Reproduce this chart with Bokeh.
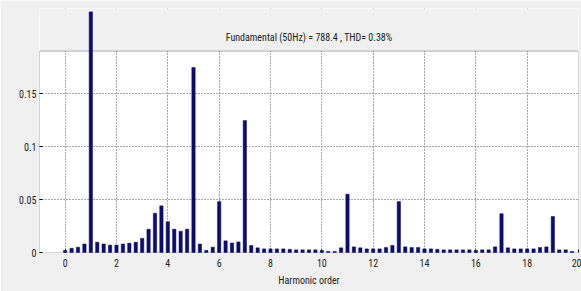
import numpy as np
from bokeh.plotting import figure
from bokeh.models import ColumnDataSource, BoxAnnotation, Label, FixedTicker, Range1d
from bokeh.embed import file_html
from bokeh.resources import INLINE

# Harmonic order (0.25 steps) and magnitude (% of fundamental)
harmonic_order = [i * 0.25 for i in range(80)]
magnitude = [
    0.002, 0.004, 0.005, 0.008,      # 0 .. 0.75
    0.227, 0.0097, 0.008, 0.007,     # 1 .. 1.75
    0.007, 0.008, 0.0088, 0.0097,    # 2 .. 2.75
    0.0134, 0.022, 0.037, 0.044,     # 3 .. 3.75
    0.029, 0.022, 0.020, 0.022,      # 4 .. 4.75
    0.1745, 0.008, 0.002, 0.005,     # 5 .. 5.75
    0.048, 0.011, 0.009, 0.010,      # 6 .. 6.75
    0.1245, 0.0066, 0.0044, 0.0034,  # 7 .. 7.75
    0.0034, 0.0034, 0.0034, 0.003,   # 8 .. 8.75
    0.0025, 0.0025, 0.0025, 0.0025,  # 9 .. 9.75
    0.002, 0.001, 0.001, 0.0044,     # 10 .. 10.75
    0.055, 0.0053, 0.0044, 0.0034,   # 11 .. 11.75
    0.0034, 0.0034, 0.0047, 0.0066,  # 12 .. 12.75
    0.048, 0.0053, 0.0047, 0.0047,   # 13 .. 13.75
    0.0034, 0.0034, 0.003, 0.0025,   # 14 .. 14.75
    0.0025, 0.0025, 0.0025, 0.0025,  # 15 .. 15.75
    0.002, 0.0025, 0.0025, 0.0053,   # 16 .. 16.75
    0.0366, 0.0044, 0.0034, 0.0034,  # 17 .. 17.75
    0.0034, 0.0034, 0.0047, 0.0053,  # 18 .. 18.75
    0.034, 0.0025, 0.0025, 0.001,    # 19 .. 19.75
]
x_ticks = [0, 2, 4, 6, 8, 10, 12, 14, 16, 18, 20]
y_ticks = [0, 0.05, 0.1, 0.15]
y_tick_labels = {0: "0", 0.05: "0.05", 0.1: "0.1", 0.15: "0.15"}
title_text = "Fundamental (50Hz) = 788.4 , THD= 0.38%"
x_label = "Harmonic order"
y_label = "Mag (% of Fundamental)"

AXES_TOP = 0.19
X_MIN, X_MAX = -1, 20
Y_MAX = 0.2302

GREY = "#f0f0f0"
BAR = "#0c0c6e"
NARROW = "'Liberation Sans Narrow', 'Arial Narrow', 'Roboto Condensed', sans-serif"

source = ColumnDataSource(dict(x=harmonic_order, top=magnitude))

p = figure(width=581, height=291, output_backend="svg", toolbar_location=None,
           x_range=Range1d(X_MIN, X_MAX), y_range=Range1d(0, Y_MAX),
           min_border_left=39, min_border_right=3, min_border_top=8,
           min_border_bottom=39)
p.border_fill_color = GREY
p.background_fill_color = "white"
p.outline_line_color = None

# grids
for g in (p.xgrid, p.ygrid):
    g.grid_line_color = "#555555"
    g.grid_line_dash = "1 2"
    g.grid_line_width = 1
p.xgrid.ticker = FixedTicker(ticks=x_ticks)
p.ygrid.ticker = FixedTicker(ticks=y_ticks[1:])

# axes
p.xaxis.ticker = FixedTicker(ticks=x_ticks)
p.yaxis.ticker = FixedTicker(ticks=y_ticks)
p.yaxis.major_label_overrides = y_tick_labels
for ax in (p.xaxis, p.yaxis):
    ax.axis_line_color = None
    ax.major_tick_in = 3
    ax.major_tick_out = 0
    ax.minor_tick_line_color = None
    ax.major_tick_line_color = "black"
    ax.major_label_text_font = NARROW
    ax.major_label_text_font_size = "10px"
    ax.major_label_text_color = "#222222"
p.xaxis.major_label_standoff = 6
p.yaxis.major_label_standoff = 3
p.xaxis.axis_label = x_label
p.xaxis.axis_label_text_font = NARROW
p.xaxis.axis_label_text_font_size = "10px"
p.xaxis.axis_label_text_font_style = "normal"
p.xaxis.axis_label_text_color = "#222222"
p.xaxis.axis_label_standoff = 5

# grey area above the axes box
p.add_layout(BoxAnnotation(bottom=AXES_TOP, fill_color=GREY, fill_alpha=1,
                           line_color=None))
# axes box
p.add_layout(BoxAnnotation(top=AXES_TOP, fill_alpha=0, line_color="black",
                           line_width=1))

r = p.vbar(x="x", top="top", width=0.13, source=source, fill_color=BAR,
           line_color=BAR, line_width=0.5)
r.level = "overlay"

p.add_layout(Label(x=(X_MIN + X_MAX) / 2, y=0.203, text=title_text,
                   text_align="center", text_baseline="middle",
                   text_font=NARROW, text_font_size="10px",
                   text_color="#222222"))
p.add_layout(Label(x=X_MIN, y=0.095, x_offset=-23, text=y_label, angle=np.pi / 2,
                   text_align="center", text_baseline="middle",
                   text_font="DejaVu Sans", text_font_size="8px",
                   text_color="#333333"))

open("out.html", "w").write(file_html(p, INLINE))
